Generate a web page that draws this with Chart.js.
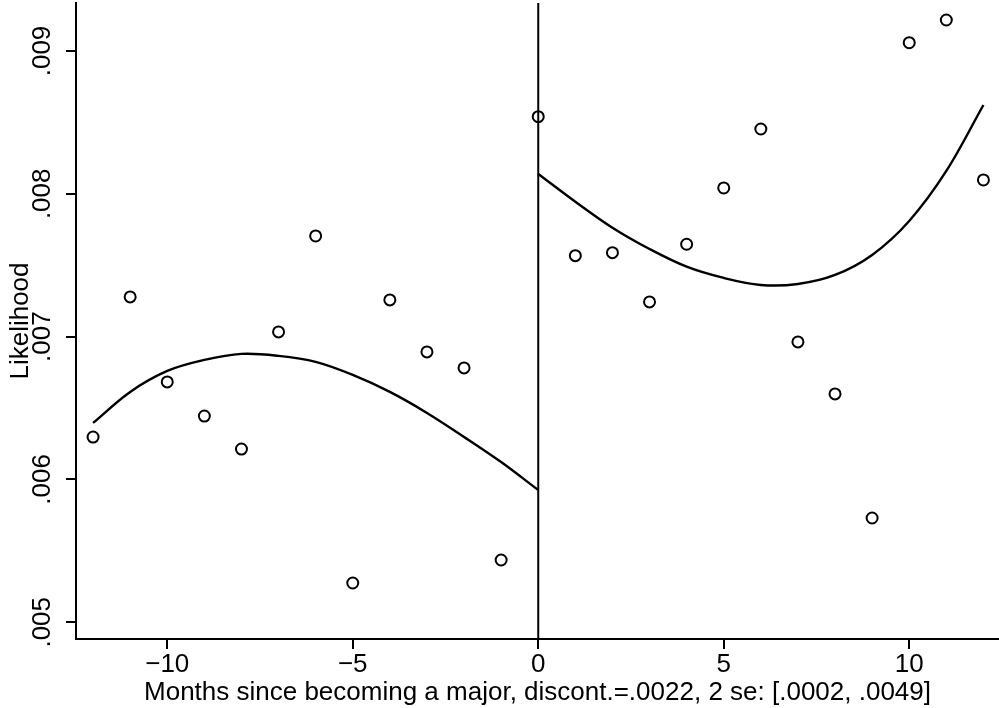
<!DOCTYPE html>
<html><head><meta charset="utf-8">
<script src="https://cdn.jsdelivr.net/npm/chart.js@4/dist/chart.umd.min.js"></script>
<style>html,body{margin:0;padding:0;background:#fff;} canvas{display:block;}</style>
</head><body>
<canvas id="c" width="999" height="708"></canvas>
<script>
// ---- data ----
const months = [-12,-11,-10,-9,-8,-7,-6,-5,-4,-3,-2,-1,0,1,2,3,4,5,6,7,8,9,10,11,12];
const likelihood = [0.006297,0.007278,0.006683,0.006444,0.006213,0.007033,0.007705,0.005275,0.007257,0.006893,0.006781,0.005436,
                    0.00854,0.007567,0.007588,0.007243,0.007647,0.008041,0.008454,0.006963,0.006599,0.00573,0.009058,0.009217,0.008097];
const fitLeftX = [-12,-11,-10,-9,-8,-7,-6,-5,-4,-3,-2,-1,0];
const fitLeftY = [0.006396,0.006613,0.006760,0.006837,0.006879,0.006865,0.006823,0.006732,0.006613,0.006466,0.006298,0.006122,0.005926];
const fitRightX = [0,1,2,3,4,5,6,7,8,9,10,11,12];
const fitRightY = [0.008139,0.007945,0.007763,0.007614,0.007490,0.007411,0.007362,0.007369,0.007432,0.007572,0.007810,0.008160,0.008622];
const xTickValues = [-10,-5,0,5,10];
const xTickLabels = ['\u221210','\u22125','0','5','10'];
const yTickValues = [0.005,0.006,0.007,0.008,0.009];
const yTickLabels = ['.005','.006','.007','.008','.009'];
const xRange = [-12.46, 12.42];
const yRange = [0.004883, 0.009336];
const cutoffX = 0;
const xTitle = 'Months since becoming a major, discont.=.0022, 2 se: [.0002, .0049]';
const yTitle = 'Likelihood';

const FONT = 'Liberation Sans, Arial, Helvetica, sans-serif';

const scatterData = months.map((m,i)=>({x:m, y:likelihood[i]}));
const leftData = fitLeftX.map((m,i)=>({x:m, y:fitLeftY[i]}));
const rightData = fitRightX.map((m,i)=>({x:m, y:fitRightY[i]}));
const cutData = [{x:cutoffX, y:yRange[0]}, {x:cutoffX, y:yRange[1]}];

function zeroPad(s){ s.paddingTop = 0; s.paddingBottom = 0; s.paddingLeft = 0; s.paddingRight = 0; }

new Chart(document.getElementById('c'), {
  type: 'scatter',
  data: {
    datasets: [
      {data: scatterData, showLine:false, pointStyle:'circle', pointRadius:5.5, pointHoverRadius:5.5,
       pointBorderWidth:2, borderColor:'#000', pointBorderColor:'#000', backgroundColor:'rgba(0,0,0,0)', pointBackgroundColor:'rgba(0,0,0,0)', clip:false},
      {data: leftData, showLine:true, pointRadius:0, borderColor:'#000', borderWidth:2.4, tension:0.35, fill:false},
      {data: rightData, showLine:true, pointRadius:0, borderColor:'#000', borderWidth:2.4, tension:0.35, fill:false},
      {data: cutData, showLine:true, pointRadius:0, borderColor:'#000', borderWidth:2, fill:false}
    ]
  },
  options: {
    animation:false, responsive:false, devicePixelRatio:1,
    plugins:{legend:{display:false}, tooltip:{enabled:false}},
    layout:{autoPadding:false, padding:{top:3,left:0,right:0,bottom:0}},
    scales:{
      x:{
        type:'linear', min:xRange[0], max:xRange[1],
        afterBuildTicks:(s)=>{ s.ticks = xTickValues.map(v=>({value:v})); },
        afterFit:(s)=>{ s.height = 69; zeroPad(s); },
        grid:{display:true, drawOnChartArea:false, drawTicks:true, tickLength:10, color:'#000', lineWidth:2},
        border:{display:true, color:'#000', width:2},
        ticks:{color:'#000', font:{family:FONT, size:26, lineHeight:1}, padding:3, minRotation:0, maxRotation:0, autoSkip:false,
          callback:(v)=>{ const i = xTickValues.indexOf(v); return i>=0 ? xTickLabels[i] : ''; }},
        title:{display:true, text:xTitle, color:'#000', font:{family:FONT, size:26, lineHeight:1}, padding:{top:0,bottom:2}}
      },
      y:{
        type:'linear', min:yRange[0], max:yRange[1],
        afterBuildTicks:(s)=>{ s.ticks = yTickValues.map(v=>({value:v})); },
        afterFit:(s)=>{ s.width = 76; zeroPad(s); },
        grid:{display:true, drawOnChartArea:false, drawTicks:true, tickLength:10, color:'#000', lineWidth:2},
        border:{display:true, color:'#000', width:2},
        ticks:{color:'#000', font:{family:FONT, size:26, lineHeight:1}, padding:-2, minRotation:90, maxRotation:90, crossAlign:'center', autoSkip:false,
          callback:(v)=>{ const i = yTickValues.indexOf(v); return i>=0 ? yTickLabels[i] : ''; }},
        title:{display:true, text:yTitle, color:'#000', font:{family:FONT, size:26, lineHeight:1}, padding:{top:8,bottom:0}}
      }
    }
  }
});
</script>
</body></html>
